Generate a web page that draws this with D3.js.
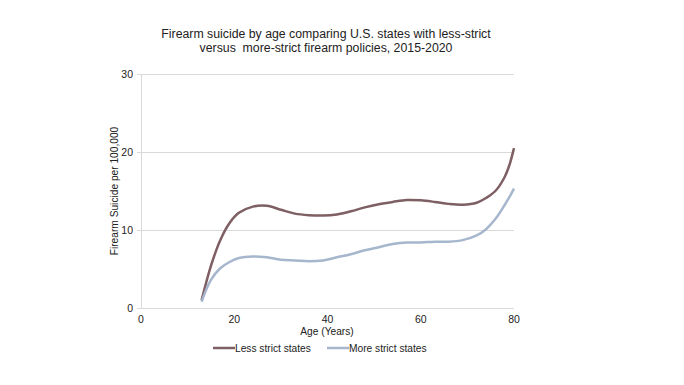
<!DOCTYPE html>
<html>
<head>
<meta charset="utf-8">
<script src="https://cdn.jsdelivr.net/npm/d3@7/dist/d3.min.js"></script>
<style>
  html, body { margin: 0; padding: 0; background: #fff; }
  svg { display: block; }
  text { font-family: "Liberation Sans", Arial, sans-serif; fill: #222; white-space: pre; }
</style>
</head>
<body>
<script>
const ages        = [13, 15, 17, 19, 21, 24, 27, 30, 33, 36, 39, 42, 45, 48, 51, 54, 57, 60, 63, 66, 69, 72, 74, 76, 78, 79, 80];
const lessStrict  = [1.0, 5.4, 8.7, 10.9, 12.2, 13.0, 13.1, 12.6, 12.1, 11.9, 11.85, 12.0, 12.4, 12.9, 13.3, 13.6, 13.85, 13.8, 13.6, 13.35, 13.25, 13.5, 14.1, 15.0, 16.8, 18.3, 20.5];
const moreStrict  = [0.8, 3.6, 5.1, 5.9, 6.4, 6.6, 6.5, 6.2, 6.1, 6.0, 6.1, 6.5, 6.9, 7.4, 7.8, 8.2, 8.4, 8.4, 8.5, 8.5, 8.7, 9.3, 10.1, 11.4, 13.2, 14.2, 15.3];
const seriesNames = ["Less strict states", "More strict states"];
const seriesColors = ["#7e5f63", "#a6b6cc"];
const xTicks = [0, 20, 40, 60, 80];
const yTicks = [0, 10, 20, 30];
const titleLines = ["Firearm suicide by age comparing U.S. states with less-strict", "versus  more-strict firearm policies, 2015-2020"];

const W = 684, H = 385;
const svg = d3.select("body").append("svg").attr("width", W).attr("height", H);

const x = d3.scaleLinear().domain([0, 80]).range([141, 514]);
const y = d3.scaleLinear().domain([0, 30]).range([308, 74]);

// gridlines
svg.append("g").selectAll("line").data(yTicks).join("line")
  .attr("x1", x(0) - 4).attr("x2", x(80))
  .attr("y1", d => y(d) + 0.5).attr("y2", d => y(d) + 0.5)
  .attr("stroke", "#d9d9d9").attr("stroke-width", 1);

// left axis line
svg.append("line")
  .attr("x1", x(0) + 0.5).attr("x2", x(0) + 0.5)
  .attr("y1", y(30)).attr("y2", y(0))
  .attr("stroke", "#d9d9d9");

// y tick labels
svg.append("g").selectAll("text").data(yTicks).join("text")
  .attr("x", x(0) - 8).attr("y", d => y(d) + 4)
  .attr("text-anchor", "end").attr("font-size", 10.5)
  .text(d => d);

// x tick labels
svg.append("g").selectAll("text").data(xTicks).join("text")
  .attr("x", d => x(d)).attr("y", y(0) + 15)
  .attr("text-anchor", "middle").attr("font-size", 10.5)
  .text(d => d);

// title
svg.append("g").selectAll("text").data(titleLines).join("text")
  .attr("x", 326).attr("y", (d, i) => 37.5 + i * 14)
  .attr("text-anchor", "middle").attr("font-size", 12.3)
  .text(d => d);

// axis titles
svg.append("text")
  .attr("x", 327).attr("y", 335)
  .attr("text-anchor", "middle").attr("font-size", 10.2)
  .text("Age (Years)");
svg.append("text")
  .attr("transform", `translate(118,${(y(0) + y(30)) / 2}) rotate(-90)`)
  .attr("text-anchor", "middle").attr("font-size", 10.2)
  .text("Firearm Suicide per 100,000");

// lines
const line = d3.line().x(d => x(d[0])).y(d => y(d[1])).curve(d3.curveCatmullRom.alpha(0.5));
const data = [lessStrict, moreStrict].map(vals => ages.map((a, i) => [a, vals[i]]));
svg.append("g").selectAll("path").data(data).join("path")
  .attr("d", line)
  .attr("fill", "none")
  .attr("stroke", (d, i) => seriesColors[i])
  .attr("stroke-width", 2.5)
  .attr("stroke-linejoin", "round");

// legend
const legendX = [213, 327];
const lg = svg.append("g").selectAll("g").data(seriesNames).join("g")
  .attr("transform", (d, i) => `translate(${legendX[i]},348)`);
lg.append("line").attr("x1", 0).attr("x2", 22).attr("y1", 0).attr("y2", 0)
  .attr("stroke", (d, i) => seriesColors[i]).attr("stroke-width", 2.5);
lg.append("text").attr("x", 22).attr("y", 3.5).attr("font-size", 10.2).text(d => d);
</script>
</body>
</html>
